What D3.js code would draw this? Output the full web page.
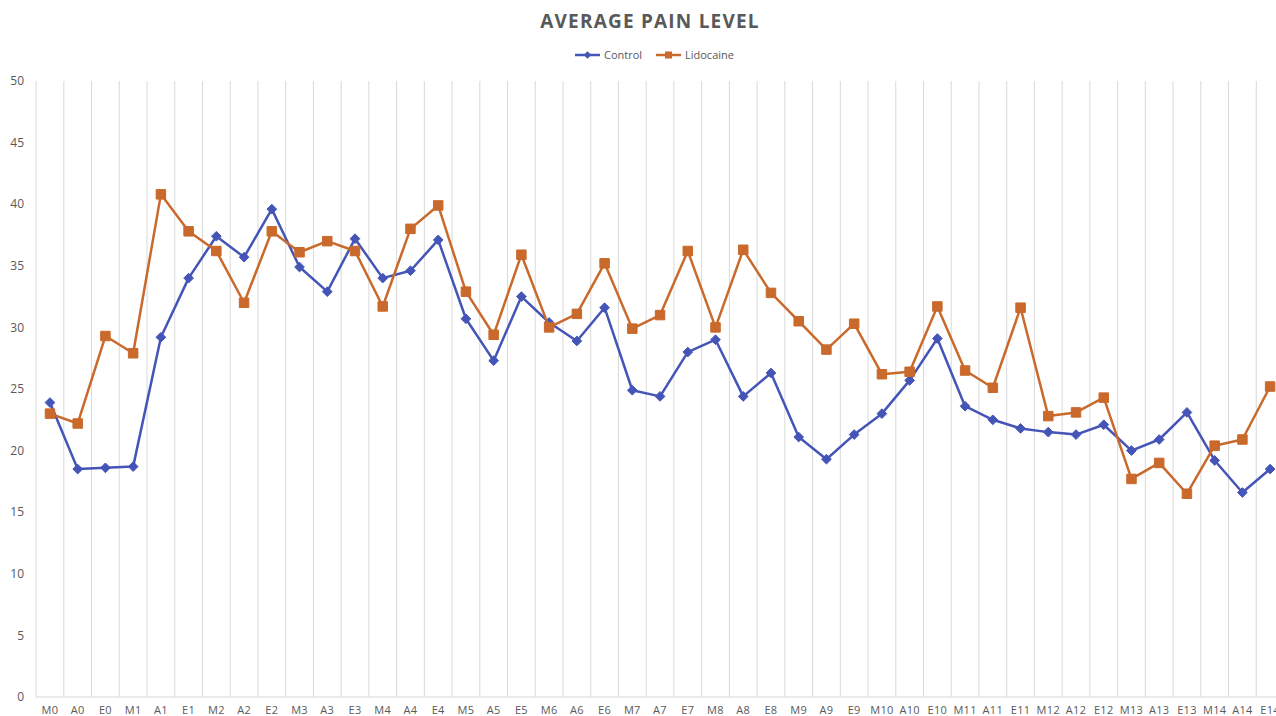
<!DOCTYPE html>
<html>
<head>
<meta charset="utf-8">
<script src="https://cdn.jsdelivr.net/npm/d3@7/dist/d3.min.js"></script>
<style>
  body { margin: 0; background: #fff; overflow: hidden; }
  svg { display: block; font-family: "Open Sans", "Noto Sans", sans-serif; }
</style>
</head>
<body>
<div class="container"></div>
<script>
var categories = ["M0","A0","E0","M1","A1","E1","M2","A2","E2","M3","A3","E3","M4","A4","E4",
                  "M5","A5","E5","M6","A6","E6","M7","A7","E7","M8","A8","E8","M9","A9","E9",
                  "M10","A10","E10","M11","A11","E11","M12","A12","E12","M13","A13","E13","M14","A14","E14"];

var control = [23.9,18.5,18.6,18.7,29.2,34.0,37.4,35.7,39.6,34.9,32.9,37.2,34.0,34.6,37.1,
               30.7,27.3,32.5,30.4,28.9,31.6,24.9,24.4,28.0,29.0,24.4,26.3,21.1,19.3,21.3,
               23.0,25.7,29.1,23.6,22.5,21.8,21.5,21.3,22.1,20.0,20.9,23.1,19.2,16.6,18.5];

var lidocaine = [23.0,22.2,29.3,27.9,40.8,37.8,36.2,32.0,37.8,36.1,37.0,36.2,31.7,38.0,39.9,
                 32.9,29.4,35.9,30.0,31.1,35.2,29.9,31.0,36.2,30.0,36.3,32.8,30.5,28.2,30.3,
                 26.2,26.4,31.7,26.5,25.1,31.6,22.8,23.1,24.3,17.7,19.0,16.5,20.4,20.9,25.2];

var yTicks = [0,5,10,15,20,25,30,35,40,45,50];

var width = 1276;
var height = 716;
var plotLeft = 36.1;
var plotRight = 1284;
var plotTop = 81;
var plotBottom = 697;

var blue = "#4455b7";
var orange = "#c9692b";
var textColor = "#595959";
var gridColor = "#d9d9d9";

var svg = d3.select(".container").append("svg")
            .attr("width", width)
            .attr("height", height);

var x = d3.scaleBand().domain(categories).range([plotLeft, plotRight]).padding(0);
var y = d3.scaleLinear().domain([0, 50]).range([plotBottom, plotTop]);

// vertical grid lines at category boundaries
var bounds = categories.map(c => x(c)).concat([plotRight]);
svg.append("g").selectAll("line")
   .data(bounds)
   .enter().append("line")
   .attr("x1", d => d).attr("x2", d => d)
   .attr("y1", plotTop).attr("y2", plotBottom)
   .attr("stroke", gridColor)
   .attr("stroke-width", 1);

// bottom axis line
svg.append("line")
   .attr("x1", plotLeft).attr("x2", plotRight)
   .attr("y1", plotBottom).attr("y2", plotBottom)
   .attr("stroke", gridColor)
   .attr("stroke-width", 1);

// y tick labels
svg.append("g").selectAll("text")
   .data(yTicks)
   .enter().append("text")
   .attr("x", 24)
   .attr("y", d => y(d))
   .attr("dy", "0.35em")
   .attr("text-anchor", "end")
   .attr("fill", textColor)
   .style("font-size", "12px")
   .text(d => d);

// x tick labels
svg.append("g").selectAll("text")
   .data(categories)
   .enter().append("text")
   .attr("x", d => x(d) + x.bandwidth() / 2)
   .attr("y", 714)
   .attr("text-anchor", "middle")
   .attr("fill", textColor)
   .style("font-size", "11px")
   .style("letter-spacing", "0.3px")
   .text(d => d);

var line = d3.line()
             .x((d, i) => x(categories[i]) + x.bandwidth() / 2)
             .y(d => y(d));

var diamond = d3.symbol().type(d3.symbolDiamond2).size(60);
var square = d3.symbol().type(d3.symbolSquare).size(90);

function drawSeries(values, color, sym) {
    svg.append("path")
       .datum(values)
       .attr("fill", "none")
       .attr("stroke", color)
       .attr("stroke-width", 2.5)
       .attr("stroke-linejoin", "round")
       .attr("d", line);

    svg.append("g").selectAll("path")
       .data(values)
       .enter().append("path")
       .attr("transform", (d, i) => `translate(${x(categories[i]) + x.bandwidth() / 2},${y(d)})`)
       .attr("d", sym)
       .attr("fill", color)
       .attr("stroke", color)
       .attr("stroke-width", 1);
}

drawSeries(control, blue, diamond);
drawSeries(lidocaine, orange, square);

// title
svg.append("text")
   .attr("x", 650)
   .attr("y", 21)
   .attr("dy", "0.35em")
   .attr("text-anchor", "middle")
   .attr("fill", textColor)
   .style("font-size", "19px")
   .style("font-weight", "700")
   .style("letter-spacing", "1.2px")
   .text("AVERAGE PAIN LEVEL");

// legend
var legend = [
    {name: "Control", color: blue, shape: d3.symbolDiamond2, size: 35, x: 575},
    {name: "Lidocaine", color: orange, shape: d3.symbolSquare, size: 50, x: 656}
];

var lg = svg.append("g").selectAll("g")
            .data(legend)
            .enter().append("g")
            .attr("transform", d => `translate(${d.x},55)`);

lg.append("line")
  .attr("x1", 0).attr("x2", 25)
  .attr("y1", 0).attr("y2", 0)
  .attr("stroke", d => d.color)
  .attr("stroke-width", 2.5);

lg.append("path")
  .attr("transform", "translate(12.5,0)")
  .attr("d", d => d3.symbol().type(d.shape).size(d.size)())
  .attr("fill", d => d.color);

lg.append("text")
  .attr("x", 29)
  .attr("y", 0)
  .attr("dy", "0.35em")
  .attr("fill", textColor)
  .style("font-size", "11px")
  .text(d => d.name);
</script>
</body>
</html>
